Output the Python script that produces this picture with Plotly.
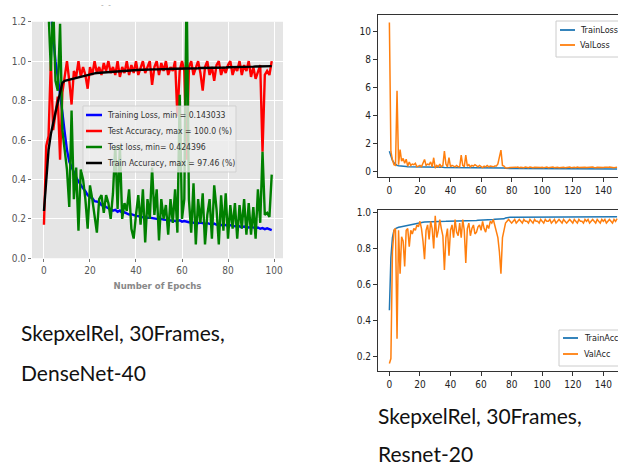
import plotly.graph_objects as go

# ---------------- DenseNet-40 run (100 epochs) ----------------
epochs_dn = list(range(100))

dn_train_loss = [
    2.40, 1.75, 1.42, 1.25, 1.12, 1.00, 0.92, 0.84, 0.74, 0.64,
    0.55, 0.49, 0.46, 0.43, 0.41, 0.39, 0.37, 0.355, 0.34, 0.32,
    0.31, 0.305, 0.29, 0.288, 0.285, 0.27, 0.268, 0.26, 0.255, 0.25,
    0.242, 0.246, 0.236, 0.242, 0.23, 0.233, 0.226, 0.222, 0.224, 0.218,
    0.215, 0.214, 0.212, 0.208, 0.211, 0.205, 0.206, 0.203, 0.201, 0.200,
    0.198, 0.200, 0.196, 0.195, 0.194, 0.193, 0.190, 0.191, 0.188, 0.193,
    0.186, 0.189, 0.185, 0.183, 0.184, 0.180, 0.182, 0.178, 0.181, 0.176,
    0.175, 0.178, 0.174, 0.172, 0.176, 0.170, 0.173, 0.168, 0.171, 0.166,
    0.165, 0.168, 0.163, 0.162, 0.166, 0.160, 0.158, 0.161, 0.157, 0.156,
    0.159, 0.154, 0.153, 0.156, 0.150, 0.153, 0.148, 0.152, 0.146, 0.143033,
]

dn_test_acc = [
    0.17, 0.57, 0.62, 1.00, 0.65, 0.75, 0.82, 0.50, 0.84, 0.92,
    1.00, 0.90, 0.78, 0.95, 0.92, 1.00, 0.92, 0.97, 0.93, 0.86,
    0.97, 0.93, 1.00, 0.94, 0.97, 0.93, 0.99, 0.95, 1.00, 0.94,
    0.97, 0.93, 1.00, 0.92, 0.97, 0.94, 1.00, 0.93, 0.98, 0.94,
    1.00, 0.93, 0.97, 1.00, 0.94, 0.97, 1.00, 0.88, 0.97, 1.00,
    0.93, 0.99, 0.95, 1.00, 0.93, 0.97, 0.95, 1.00, 0.72, 0.95,
    1.00, 0.95, 0.50, 0.97, 1.00, 0.93, 0.97, 1.00, 0.94, 0.85,
    0.97, 1.00, 0.93, 0.97, 0.90, 0.98, 1.00, 0.93, 0.97, 0.94,
    0.98, 1.00, 0.93, 0.97, 0.95, 1.00, 0.93, 0.98, 0.95, 1.00,
    0.92, 0.97, 0.91, 0.95, 0.98, 0.54, 0.93, 0.95, 0.93, 1.00,
]

dn_test_loss = [
    1.60, 1.45, 1.25, 0.95, 1.30, 0.90, 0.85, 1.19, 0.65, 0.55,
    0.45, 0.26, 0.75, 0.30, 0.46, 0.14, 0.45, 0.40, 0.30, 0.15,
    0.37, 0.30, 0.20, 0.13, 0.30, 0.32, 0.23, 0.32, 0.28, 0.20,
    0.33, 0.57, 0.25, 0.57, 0.20, 0.28, 0.24, 0.35, 0.15, 0.10,
    0.22, 0.32, 0.17, 0.35, 0.08, 0.30, 0.20, 0.46, 0.22, 0.35,
    0.09, 0.30, 0.20, 0.27, 0.12, 0.30, 0.18, 0.35, 0.13, 0.83,
    0.20, 0.30, 1.40, 0.30, 0.13, 0.38, 0.07, 0.30, 0.18, 0.33,
    0.07, 0.22, 0.30, 0.10, 0.37, 0.25, 0.07, 0.32, 0.14, 0.33,
    0.10, 0.27, 0.15, 0.28, 0.10, 0.27, 0.15, 0.30, 0.12, 0.28,
    0.12, 0.26, 0.10, 0.35, 0.18, 0.54, 0.22, 0.23, 0.21, 0.424396,
]

dn_train_acc = [
    0.24, 0.42, 0.55, 0.63, 0.69, 0.74, 0.79, 0.84, 0.89, 0.900,
    0.903, 0.905, 0.910, 0.912, 0.915, 0.919, 0.923, 0.926, 0.929, 0.931,
    0.934, 0.936, 0.938, 0.940, 0.941, 0.943, 0.944, 0.945, 0.946, 0.947,
    0.948, 0.949, 0.950, 0.950, 0.951, 0.952, 0.952, 0.953, 0.954, 0.954,
    0.955, 0.955, 0.956, 0.956, 0.957, 0.957, 0.957, 0.958, 0.958, 0.958,
    0.959, 0.959, 0.959, 0.960, 0.960, 0.960, 0.961, 0.961, 0.961, 0.962,
    0.962, 0.962, 0.963, 0.963, 0.963, 0.964, 0.964, 0.964, 0.965, 0.965,
    0.965, 0.966, 0.966, 0.966, 0.967, 0.967, 0.967, 0.968, 0.968, 0.968,
    0.969, 0.969, 0.969, 0.970, 0.970, 0.970, 0.971, 0.971, 0.971, 0.972,
    0.972, 0.972, 0.973, 0.973, 0.973, 0.974, 0.9746, 0.974, 0.973, 0.9746,
]

dn_labels = [
    "Training Loss, min = 0.143033",
    "Test Accuracy, max = 100.0 (%)",
    "Test loss, min= 0.424396",
    "Train Accuracy, max = 97.46 (%)",
]

# ---------------- ResNet-20 run (150 epochs) ----------------
epochs_rn = list(range(150))

rn_train_loss = [
    1.42, 1.00, 0.75, 0.59, 0.47, 0.40, 0.37, 0.35, 0.34, 0.33,
    0.32, 0.32, 0.31, 0.31, 0.31, 0.30, 0.30, 0.30, 0.29, 0.29,
    0.29, 0.28, 0.28, 0.28, 0.28, 0.27, 0.27, 0.27, 0.27, 0.27,
    0.26, 0.26, 0.26, 0.26, 0.26, 0.26, 0.25, 0.25, 0.25, 0.25,
    0.25, 0.25, 0.25, 0.24, 0.24, 0.24, 0.24, 0.24, 0.24, 0.24,
    0.24, 0.23, 0.23, 0.23, 0.23, 0.23, 0.23, 0.23, 0.23, 0.23,
    0.22, 0.22, 0.22, 0.22, 0.22, 0.22, 0.22, 0.22, 0.22, 0.21,
    0.21, 0.21, 0.21, 0.21, 0.21, 0.21, 0.19, 0.18, 0.18, 0.18,
    0.18, 0.18, 0.18, 0.18, 0.18, 0.18, 0.18, 0.18, 0.18, 0.18,
    0.17, 0.17, 0.17, 0.17, 0.17, 0.17, 0.17, 0.17, 0.17, 0.17,
    0.17, 0.17, 0.17, 0.17, 0.17, 0.17, 0.17, 0.17, 0.17, 0.17,
    0.16, 0.16, 0.16, 0.16, 0.16, 0.16, 0.16, 0.16, 0.16, 0.16,
    0.16, 0.16, 0.16, 0.16, 0.16, 0.16, 0.16, 0.16, 0.16, 0.16,
    0.16, 0.16, 0.16, 0.16, 0.16, 0.15, 0.15, 0.15, 0.15, 0.15,
    0.15, 0.15, 0.15, 0.15, 0.15, 0.15, 0.15, 0.15, 0.15, 0.15,
]

rn_val_loss = [
    10.65, 1.40, 0.80, 0.45, 0.40, 5.75, 0.45, 1.54, 0.70, 0.90,
    0.55, 0.85, 0.35, 0.65, 0.40, 0.50, 0.45, 0.55, 0.30, 0.35,
    0.40, 0.30, 0.55, 0.83, 0.40, 0.50, 0.45, 0.65, 0.30, 0.95,
    0.20, 0.40, 0.30, 0.50, 0.30, 0.40, 1.42, 0.50, 0.30, 0.95,
    0.30, 0.40, 0.35, 0.30, 0.40, 0.30, 0.30, 1.14, 0.40, 0.30,
    1.14, 0.35, 0.45, 0.30, 0.40, 0.35, 0.45, 0.35, 0.30, 0.40,
    0.30, 0.25, 0.35, 0.30, 0.40, 0.30, 0.35, 0.30, 0.30, 0.35,
    0.35, 0.50, 0.90, 1.50, 0.40, 0.35, 0.22, 0.21, 0.23, 0.25,
    0.24, 0.27, 0.23, 0.26, 0.28, 0.24, 0.27, 0.25, 0.23, 0.28,
    0.26, 0.24, 0.29, 0.25, 0.23, 0.27, 0.26, 0.24, 0.28, 0.25,
    0.27, 0.23, 0.26, 0.28, 0.24, 0.26, 0.25, 0.29, 0.24, 0.26,
    0.27, 0.23, 0.25, 0.28, 0.26, 0.24, 0.27, 0.25, 0.29, 0.24,
    0.26, 0.27, 0.23, 0.28, 0.25, 0.26, 0.24, 0.29, 0.26, 0.25,
    0.27, 0.24, 0.26, 0.28, 0.25, 0.23, 0.27, 0.26, 0.24, 0.28,
    0.25, 0.27, 0.24, 0.26, 0.28, 0.25, 0.27, 0.24, 0.26, 0.27,
]

rn_train_acc = [
    0.458, 0.75, 0.86, 0.900, 0.910, 0.915, 0.917, 0.919, 0.921, 0.923,
    0.925, 0.927, 0.929, 0.931, 0.933, 0.935, 0.937, 0.939, 0.941, 0.943,
    0.944, 0.945, 0.945, 0.946, 0.946, 0.947, 0.947, 0.947, 0.948, 0.948,
    0.948, 0.949, 0.949, 0.949, 0.950, 0.950, 0.950, 0.950, 0.951, 0.951,
    0.951, 0.951, 0.952, 0.952, 0.952, 0.952, 0.953, 0.953, 0.953, 0.953,
    0.954, 0.954, 0.954, 0.954, 0.955, 0.955, 0.955, 0.955, 0.956, 0.956,
    0.956, 0.957, 0.957, 0.958, 0.958, 0.959, 0.959, 0.960, 0.960, 0.961,
    0.961, 0.962, 0.962, 0.963, 0.963, 0.964, 0.969, 0.971, 0.972, 0.972,
    0.972, 0.972, 0.973, 0.973, 0.973, 0.973, 0.973, 0.973, 0.974, 0.974,
    0.974, 0.974, 0.974, 0.974, 0.974, 0.974, 0.974, 0.975, 0.975, 0.975,
    0.975, 0.975, 0.975, 0.975, 0.975, 0.975, 0.975, 0.975, 0.975, 0.975,
    0.975, 0.975, 0.975, 0.975, 0.976, 0.976, 0.976, 0.976, 0.976, 0.976,
    0.976, 0.976, 0.976, 0.976, 0.976, 0.976, 0.976, 0.976, 0.976, 0.976,
    0.976, 0.976, 0.976, 0.976, 0.976, 0.976, 0.976, 0.976, 0.976, 0.976,
    0.976, 0.976, 0.976, 0.976, 0.976, 0.976, 0.976, 0.976, 0.976, 0.976,
]

rn_val_acc = [
    0.163, 0.19, 0.78, 0.90, 0.91, 0.30, 0.90, 0.66, 0.865, 0.84,
    0.70, 0.90, 0.91, 0.81, 0.90, 0.88, 0.91, 0.90, 0.93, 0.92,
    0.95, 0.91, 0.84, 0.74, 0.90, 0.93, 0.85, 0.95, 0.91, 0.80,
    0.98, 0.86, 0.90, 0.96, 0.91, 0.87, 0.68, 0.86, 0.91, 0.76,
    0.90, 0.93, 0.86, 0.96, 0.89, 0.87, 0.94, 0.86, 0.96, 0.90,
    0.72, 0.91, 0.94, 0.87, 0.91, 0.93, 0.88, 0.89, 0.92, 0.93,
    0.90, 0.95, 0.91, 0.89, 0.93, 0.91, 0.95, 0.94, 0.96, 0.93,
    0.89, 0.86, 0.78, 0.66, 0.86, 0.91, 0.94, 0.95, 0.96, 0.95,
    0.94, 0.95, 0.96, 0.94, 0.95, 0.96, 0.95, 0.94, 0.96, 0.95,
    0.95, 0.94, 0.96, 0.95, 0.94, 0.96, 0.95, 0.95, 0.94, 0.96,
    0.95, 0.94, 0.96, 0.95, 0.95, 0.96, 0.94, 0.95, 0.96, 0.94,
    0.95, 0.96, 0.95, 0.94, 0.96, 0.95, 0.94, 0.95, 0.96, 0.95,
    0.94, 0.96, 0.95, 0.94, 0.96, 0.95, 0.95, 0.94, 0.96, 0.95,
    0.96, 0.94, 0.95, 0.96, 0.95, 0.94, 0.96, 0.95, 0.94, 0.96,
    0.95, 0.96, 0.94, 0.95, 0.96, 0.95, 0.94, 0.96, 0.95, 0.965,
]

W, H = 618, 468
COND = "DejaVu Sans Condensed, DejaVu Sans, sans-serif"
CAPTION = "Lato, Liberation Sans, sans-serif"
C_BLUE, C_ORANGE = "#1f77b4", "#ff7f0e"


def px_x(p):
    return p / W


def px_y(p):
    return 1 - p / H


fig = go.Figure()

# Left panel: DenseNet-40 curves on a ggplot-like grey panel
dn_series = [dn_train_loss, dn_test_acc, dn_test_loss, dn_train_acc]
dn_colors = ["#0000ff", "#ff0000", "#008000", "#000000"]
for name, ys, col in zip(dn_labels, dn_series, dn_colors):
    fig.add_trace(go.Scatter(
        x=epochs_dn, y=ys, mode="lines", name=name, showlegend=False,
        line=dict(color=col, width=2.4), xaxis="x", yaxis="y",
    ))

# Right panels: ResNet-20 loss (top) and accuracy (bottom)
rn_panels = [
    ("x2", "y2", [("TrainLoss", rn_train_loss, C_BLUE), ("ValLoss", rn_val_loss, C_ORANGE)]),
    ("x3", "y3", [("TrainAcc", rn_train_acc, C_BLUE), ("ValAcc", rn_val_acc, C_ORANGE)]),
]
for xa, ya, series in rn_panels:
    for name, ys, col in series:
        fig.add_trace(go.Scatter(x=epochs_rn, y=ys, mode="lines", name=name, showlegend=False,
                                 line=dict(color=col, width=1.5), xaxis=xa, yaxis=ya))

tick_font_left = dict(family=COND, size=10, color="#555555")
tick_font_right = dict(family=COND, size=10, color="#222222")

right_x = dict(
    domain=[px_x(378), 1.0], range=[-7.45, 149.6], tickvals=[0, 20, 40, 60, 80, 100, 120, 140],
    showgrid=False, zeroline=False, showline=True, linecolor="#333333", linewidth=1, mirror=True,
    ticks="outside", ticklen=4, tickcolor="#333333", tickfont=tick_font_right,
)

shapes = [
    dict(type="rect", xref="paper", yref="paper", layer="below",
         x0=px_x(32), x1=px_x(283), y0=px_y(258.3), y1=px_y(21.7),
         fillcolor="#e5e5e5", line=dict(width=0)),
]
annotations = []


def add_legend(box, entries, lw, font, fill, edge):
    """Legend frame with a short line key and a label for each entry."""
    x0, y0, x1, y1 = box
    shapes.append(dict(type="rect", xref="paper", yref="paper", layer="above",
                       x0=px_x(x0), x1=px_x(x1), y0=px_y(y1), y1=px_y(y0),
                       fillcolor=fill, line=dict(color=edge, width=1)))
    for label, col, (lx0, lx1, tx, yc) in entries:
        shapes.append(dict(type="line", xref="paper", yref="paper", layer="above",
                           x0=px_x(lx0), x1=px_x(lx1), y0=px_y(yc), y1=px_y(yc),
                           line=dict(color=col, width=lw)))
        annotations.append(dict(text=label, xref="paper", yref="paper", x=px_x(tx), y=px_y(yc),
                                xanchor="left", yanchor="middle", showarrow=False, font=font))


legend_font_left = dict(family=COND, size=8.6, color="#333333")
add_legend(
    (83, 106, 236, 172),
    [(lab, col, (86, 102, 105, yc)) for lab, col, yc in zip(dn_labels, dn_colors, [115, 131, 147, 163])],
    2.5, legend_font_left, "rgba(238,238,238,0.8)", "rgba(204,204,204,0.8)",
)
legend_font_right = dict(family=COND, size=9, color="#222222")
add_legend(
    (556, 21, 640, 57),
    [("TrainLoss", C_BLUE, (560, 575, 578, 30)), ("ValLoss", C_ORANGE, (560, 575, 578, 45))],
    1.8, legend_font_right, "rgba(255,255,255,0.85)", "#cccccc",
)
add_legend(
    (559, 330, 640, 366),
    [("TrainAcc", C_BLUE, (563, 578, 582, 338)), ("ValAcc", C_ORANGE, (563, 578, 582, 354))],
    1.8, legend_font_right, "rgba(255,255,255,0.85)", "#cccccc",
)

# Caption text under each panel
caption_font = dict(family=CAPTION, size=21, color="#111111")
captions = [
    ("SkepxelRel, 30Frames,", 19, 332),
    ("DenseNet-40", 19, 372),
    ("SkepxelRel, 30Frames,", 376, 415),
    ("Resnet-20", 376, 453),
]
for text, x0, yc in captions:
    annotations.append(dict(text=text, xref="paper", yref="paper", x=px_x(x0), y=px_y(yc),
                            xanchor="left", yanchor="middle", showarrow=False, font=caption_font))

annotations.append(dict(text="-  -", xref="paper", yref="paper", x=px_x(106), y=px_y(6),
                        xanchor="center", yanchor="middle", showarrow=False,
                        font=dict(family=COND, size=8, color="#aaaaaa")))

fig.update_layout(
    width=W, height=H,
    margin=dict(l=0, r=0, t=0, b=0, autoexpand=False),
    paper_bgcolor="white", plot_bgcolor="white",
    showlegend=False,
    xaxis=dict(
        domain=[px_x(32), px_x(283)], range=[-5.2, 103.9], tickvals=[0, 20, 40, 60, 80, 100],
        showgrid=True, gridcolor="white", gridwidth=1, zeroline=False, showline=False,
        ticks="outside", ticklen=3, tickcolor="#777777", tickfont=tick_font_left,
        title=dict(text="<b>Number of Epochs</b>", font=dict(family=COND, size=9.5, color="#888888"), standoff=7),
        anchor="y",
    ),
    yaxis=dict(
        domain=[px_y(258.3), px_y(21.7)], range=[0, 1.2], tickvals=[0, 0.2, 0.4, 0.6, 0.8, 1.0, 1.2],
        tickformat=".1f", showgrid=True, gridcolor="white", gridwidth=1, zeroline=False, showline=False,
        ticks="outside", ticklen=3, tickcolor="#777777", tickfont=tick_font_left, anchor="x",
    ),
    xaxis2=dict(right_x, anchor="y2"),
    yaxis2=dict(
        domain=[px_y(177), px_y(15)], range=[-0.43, 11.18], tickvals=[0, 2, 4, 6, 8, 10],
        showgrid=False, zeroline=False, showline=True, linecolor="#333333", linewidth=1,
        ticks="outside", ticklen=4, tickcolor="#333333", tickfont=tick_font_right, anchor="x2",
    ),
    xaxis3=dict(right_x, anchor="y3"),
    yaxis3=dict(
        domain=[px_y(371), px_y(210)], range=[0.121, 1.0127], tickvals=[0.2, 0.4, 0.6, 0.8, 1.0],
        tickformat=".1f", showgrid=False, zeroline=False, showline=True, linecolor="#333333", linewidth=1,
        ticks="outside", ticklen=4, tickcolor="#333333", tickfont=tick_font_right, anchor="x3",
    ),
    shapes=shapes,
    annotations=annotations,
)

fig.write_html("out.html")
